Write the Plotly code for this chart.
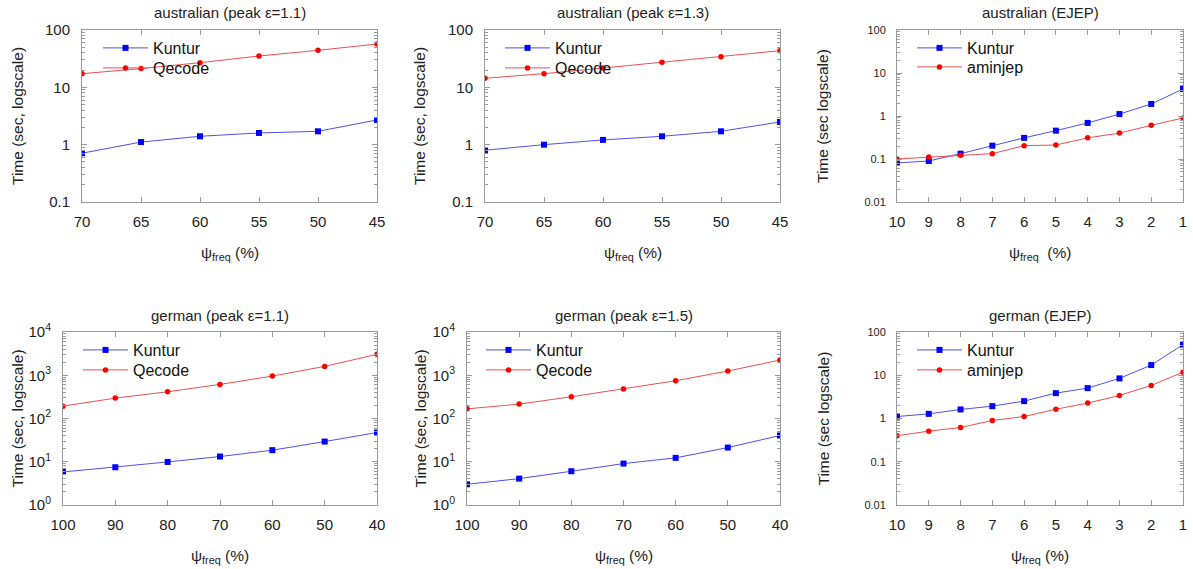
import plotly.graph_objects as go

# ---------------- data ----------------
x_aus = [70, 65, 60, 55, 50, 45]
aus11_kuntur = [0.71, 1.11, 1.40, 1.60, 1.71, 2.7]
aus11_qecode = [17.3, 21.2, 26.9, 35.2, 44.2, 57.0]
aus13_kuntur = [0.80, 1.00, 1.21, 1.40, 1.71, 2.49]
aus13_qecode = [14.4, 17.3, 21.7, 27.3, 34.3, 43.6]

x_ejep = [10, 9, 8, 7, 6, 5, 4, 3, 2, 1]
ausE_kuntur = [0.081, 0.090, 0.133, 0.204, 0.31, 0.456, 0.69, 1.11, 1.90, 4.25]
ausE_aminjep = [0.100, 0.111, 0.122, 0.133, 0.204, 0.212, 0.31, 0.40, 0.607, 0.90]

x_ger = [100, 90, 80, 70, 60, 50, 40]
ger11_kuntur = [5.8, 7.46, 9.9, 13.2, 18.5, 29.3, 47.4]
ger11_qecode = [193, 296, 415, 613, 957, 1602, 3040]
ger15_kuntur = [3.01, 4.07, 6.03, 9.07, 12.3, 21.3, 40.4]
ger15_qecode = [167, 215, 318, 478, 746, 1250, 2246]

gerE_kuntur = [1.11, 1.28, 1.62, 1.93, 2.52, 3.86, 5.04, 8.45, 17.2, 50.9]
gerE_aminjep = [0.40, 0.51, 0.62, 0.90, 1.11, 1.64, 2.27, 3.41, 5.81, 11.8]

titles = ["australian (peak ε=1.1)", "australian (peak ε=1.3)", "australian (EJEP)",
          "german (peak ε=1.1)", "german (peak ε=1.5)", "german (EJEP)"]
ytitles = ["Time (sec, logscale)", "Time (sec, logscale)", "Time (sec logscale)",
           "Time (sec, logscale)", "Time (sec, logscale)", "Time (sec logscale)"]
xtitles = ["ψ<sub>freq</sub> (%)", "ψ<sub>freq</sub> (%)", "ψ<sub>freq</sub>  (%)",
           "ψ<sub>freq</sub> (%)", "ψ<sub>freq</sub> (%)", "ψ<sub>freq</sub> (%)"]

panels = [
    dict(x=x_aus, a=aus11_kuntur, b=aus11_qecode, an="Kuntur", bn="Qecode", dec=(-1, 2), ytxt="plain", yfs=15),
    dict(x=x_aus, a=aus13_kuntur, b=aus13_qecode, an="Kuntur", bn="Qecode", dec=(-1, 2), ytxt="plain", yfs=15),
    dict(x=x_ejep, a=ausE_kuntur, b=ausE_aminjep, an="Kuntur", bn="aminjep", dec=(-2, 2), ytxt="plain", yfs=11),
    dict(x=x_ger, a=ger11_kuntur, b=ger11_qecode, an="Kuntur", bn="Qecode", dec=(0, 4), ytxt="pow", yfs=15),
    dict(x=x_ger, a=ger15_kuntur, b=ger15_qecode, an="Kuntur", bn="Qecode", dec=(0, 4), ytxt="pow", yfs=15),
    dict(x=x_ejep, a=gerE_kuntur, b=gerE_aminjep, an="Kuntur", bn="aminjep", dec=(-2, 2), ytxt="plain", yfs=11),
]

# ---------------- layout geometry (pixels) ----------------
W, H = 1193, 569
colx = [(82, 377), (485, 780), (897, 1183), (63, 377), (467, 780), (897, 1183)]
rowy = [(30, 202), (30, 202), (30, 202), (332, 505), (332, 505), (332, 505)]
legx = [98, 500, 912, 78, 481, 912]
legy = [(48, 68), (48, 68), (48, 67), (350, 370), (350, 370), (350, 370)]
ytitle_x = [18, 420, 823, 17, 420, 823]


def px(x):
    return x / W


def py(y):
    return 1 - y / H


AXC = "#9a9a9a"
FONT = "Liberation Sans, Arial, sans-serif"

fig = go.Figure()
annotations = []
layout = {}

for i, p in enumerate(panels):
    n = i + 1
    sfx = "" if n == 1 else str(n)
    xa, ya = "x" + sfx, "y" + sfx
    legA = "legend" + ("" if 2 * i + 1 == 1 else str(2 * i + 1))
    legB = "legend" + str(2 * i + 2)
    fig.add_trace(go.Scatter(x=p["x"], y=p["a"], name=p["an"], mode="lines+markers",
                             xaxis=xa, yaxis=ya, legend=legA, showlegend=True,
                             line=dict(color="rgb(80,80,235)", width=1),
                             marker=dict(symbol="square", size=6, color="#0000ff")))
    fig.add_trace(go.Scatter(x=p["x"], y=p["b"], name=p["bn"], mode="lines+markers",
                             xaxis=xa, yaxis=ya, legend=legB, showlegend=True,
                             line=dict(color="rgb(235,80,80)", width=1),
                             marker=dict(symbol="circle", size=5.5, color="#ff0000")))
    lo, hi = p["dec"]
    majors = [10.0 ** d for d in range(lo, hi + 1)]
    if p["ytxt"] == "pow":
        ttext = ["10<sup>%d</sup>" % d for d in range(lo, hi + 1)]
    else:
        ttext = [("%g" % v) for v in majors]
    minors = [k * 10.0 ** d for d in range(lo, hi) for k in range(2, 10)]
    x0, x1 = colx[i]
    y0, y1 = rowy[i]
    layout["xaxis" + sfx] = dict(
        domain=[px(x0), px(x1)], anchor=ya, range=[max(p["x"]), min(p["x"])],
        tickmode="array", tickvals=p["x"], ticks="inside", ticklen=5, tickcolor=AXC,
        showline=True, linecolor=AXC, linewidth=1, mirror="ticks", showgrid=False,
        zeroline=False, tickfont=dict(size=15, color="#222", family=FONT),
        ticklabelstandoff=6, automargin=False,
    )
    layout["yaxis" + sfx] = dict(
        domain=[py(y1), py(y0)], anchor=xa, type="log", range=[lo, hi],
        tickmode="array", tickvals=majors, ticktext=ttext, ticks="inside", ticklen=5,
        tickcolor=AXC, showline=True, linecolor=AXC, linewidth=1, mirror="ticks",
        showgrid=False, zeroline=False,
        tickfont=dict(size=p["yfs"], color="#222", family=FONT),
        minor=dict(tickmode="array", tickvals=minors, ticks="inside", ticklen=3,
                   tickcolor=AXC, showgrid=False),
        ticklabelstandoff=8, automargin=False,
    )
    for leg, ly in zip((legA, legB), legy[i]):
        layout[leg] = dict(x=px(legx[i]), y=py(ly), xanchor="left", yanchor="middle",
                           bgcolor="rgba(0,0,0,0)", borderwidth=0, visible=True,
                           font=dict(size=16, color="#111", family=FONT),
                           itemwidth=45)
    # title
    annotations.append(dict(text=titles[i], x=px((x0 + x1) / 2), y=py(y0 - 17), xref="paper",
                            yref="paper", showarrow=False, xanchor="center", yanchor="middle",
                            font=dict(size=15, color="#222", family=FONT)))
    # y title
    annotations.append(dict(text=ytitles[i], x=px(ytitle_x[i]), y=py((y0 + y1) / 2),
                            xref="paper", yref="paper", showarrow=False, textangle=-90,
                            xanchor="center", yanchor="middle",
                            font=dict(size=15.5, color="#222", family=FONT)))
    # x title
    annotations.append(dict(text=xtitles[i], x=px((x0 + x1) / 2), y=py(y1 + 51),
                            xref="paper", yref="paper", showarrow=False,
                            xanchor="center", yanchor="middle",
                            font=dict(size=15.5, color="#222", family=FONT)))

fig.update_layout(
    width=W, height=H, margin=dict(l=0, r=0, t=0, b=0, pad=0, autoexpand=False),
    paper_bgcolor="white", plot_bgcolor="white", showlegend=True,
    font=dict(family=FONT, color="#222"),
    annotations=annotations, **layout,
)

fig.write_html("out.html", config={"displayModeBar": False},
               post_script="document.body.style.margin='0px';document.body.style.overflow='hidden';")
